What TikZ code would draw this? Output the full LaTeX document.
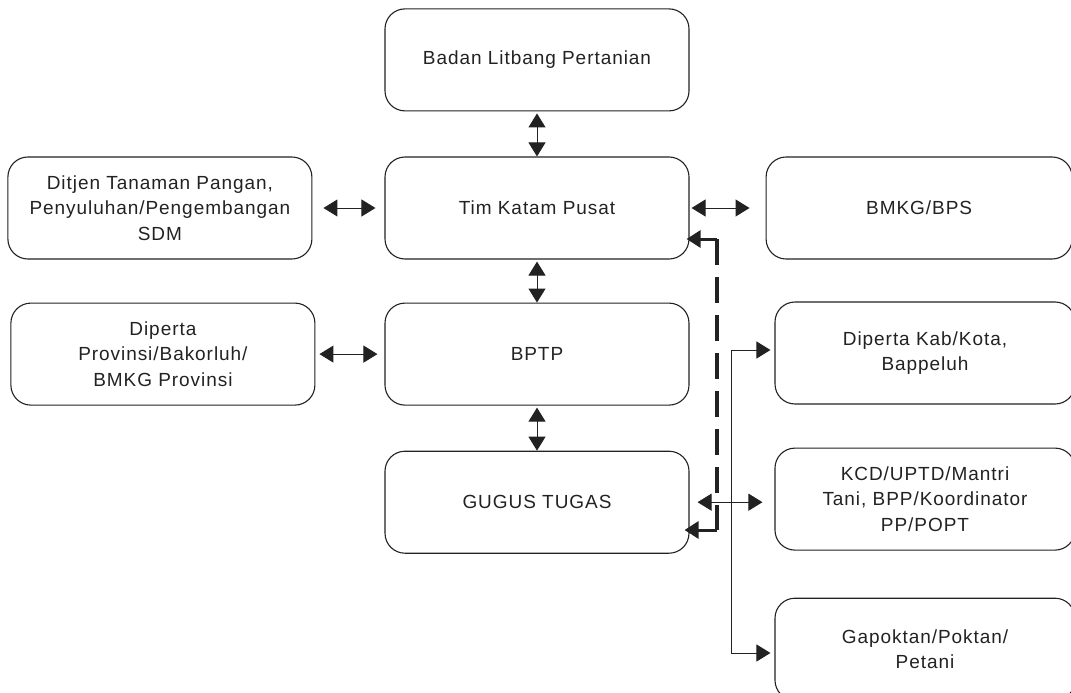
\documentclass[tikz,border=0pt]{standalone}
\usepackage{fontspec}
\setmainfont{Liberation Sans}[LetterSpace=5]
\usetikzlibrary{shapes, arrows.meta, calc, positioning}
\definecolor{ink}{HTML}{222222}
\tikzstyle{block} = [rectangle, draw=ink, line width=1.1pt, text=ink, align=center, rounded corners=20pt, minimum width=304pt, minimum height=102pt, font=\fontsize{19}{25.5}\selectfont]
\tikzstyle{line} = [draw=ink, line width=1pt, {Triangle[length=14pt,width=17pt]}-{Triangle[length=14pt,width=17pt]}]
\tikzstyle{dline} = [draw=ink, line width=3.2pt, dash pattern=on 26pt off 12pt]
\tikzstyle{dend} = [draw=ink, line width=3pt, -{Triangle[length=14pt,width=17pt]}]

\begin{document}
\begin{tikzpicture}[x=1pt, y=-1pt]
        \useasboundingbox (0,0) rectangle (1071,693);

        \node[block] (tim) at (537,208) {Tim Katam Pusat};

        \node[block, above=45pt of tim] (badan) {Badan Litbang Pertanian};
        \path[line, shorten <=2pt] (badan) -- (tim);

        \node[block, left=72pt of tim] (ditjen) {Ditjen Tanaman Pangan,\\Penyuluhan/Pengembangan\\SDM};
        \path[line, shorten <=11pt, shorten >=9pt] (ditjen) -- (tim);

        \node[block, right=76pt of tim, minimum width=306pt] (bmkg) {BMKG/BPS};
        \path[line, shorten <=2pt, shorten >=16pt] (tim) -- (bmkg);

        \node[block, below=43pt of tim] (bptp) {BPTP};
        \path[line, shorten <=2pt] (tim) -- (bptp);

        \node[block, left=69pt of bptp] (dipprov) {Diperta\\Provinsi/Bakorluh/\\BMKG Provinsi};
        \path[line, shorten <=4pt, shorten >=7pt] (dipprov) -- (bptp);

        \node[block, below=45pt of bptp] (gugus) {GUGUS TUGAS};
        \path[line, shorten <=2pt] (bptp) -- (gugus);

        \node[block, minimum width=300pt] (dipkab) at (925,353) {Diperta Kab/Kota,\\Bappeluh};

        \node[block, below=43pt of dipkab, minimum width=300pt] (kcd) {KCD/UPTD/Mantri\\Tani, BPP/Koordinator\\PP/POPT};
        \path[line, shorten <=8pt, shorten >=12pt] (gugus.east) -- (gugus.east -| kcd.west);

        \node[block, below=47pt of kcd, minimum width=300pt] (gapok) {Gapoktan/Poktan/\\Petani};

        % branch to the village level
        \coordinate (split) at (731,350);
        \coordinate (splitend) at (731,653);
        \path[line, shorten <=4pt, shorten >=4pt] (split -| dipkab.west) -- (split) -- (splitend) -- (splitend -| gapok.west);

        % dashed feedback
        \coordinate (dtop) at (717,239);
        \coordinate (dbot) at (717,530);
        \path[dline] (dtop) -- (dbot);
        \path[dend, shorten >=-3pt] (dtop) -- (dtop -| tim.east);
        \path[dend, shorten >=-5pt] (dbot) -- (dbot -| gugus.east);
    \end{tikzpicture}
\end{document}
